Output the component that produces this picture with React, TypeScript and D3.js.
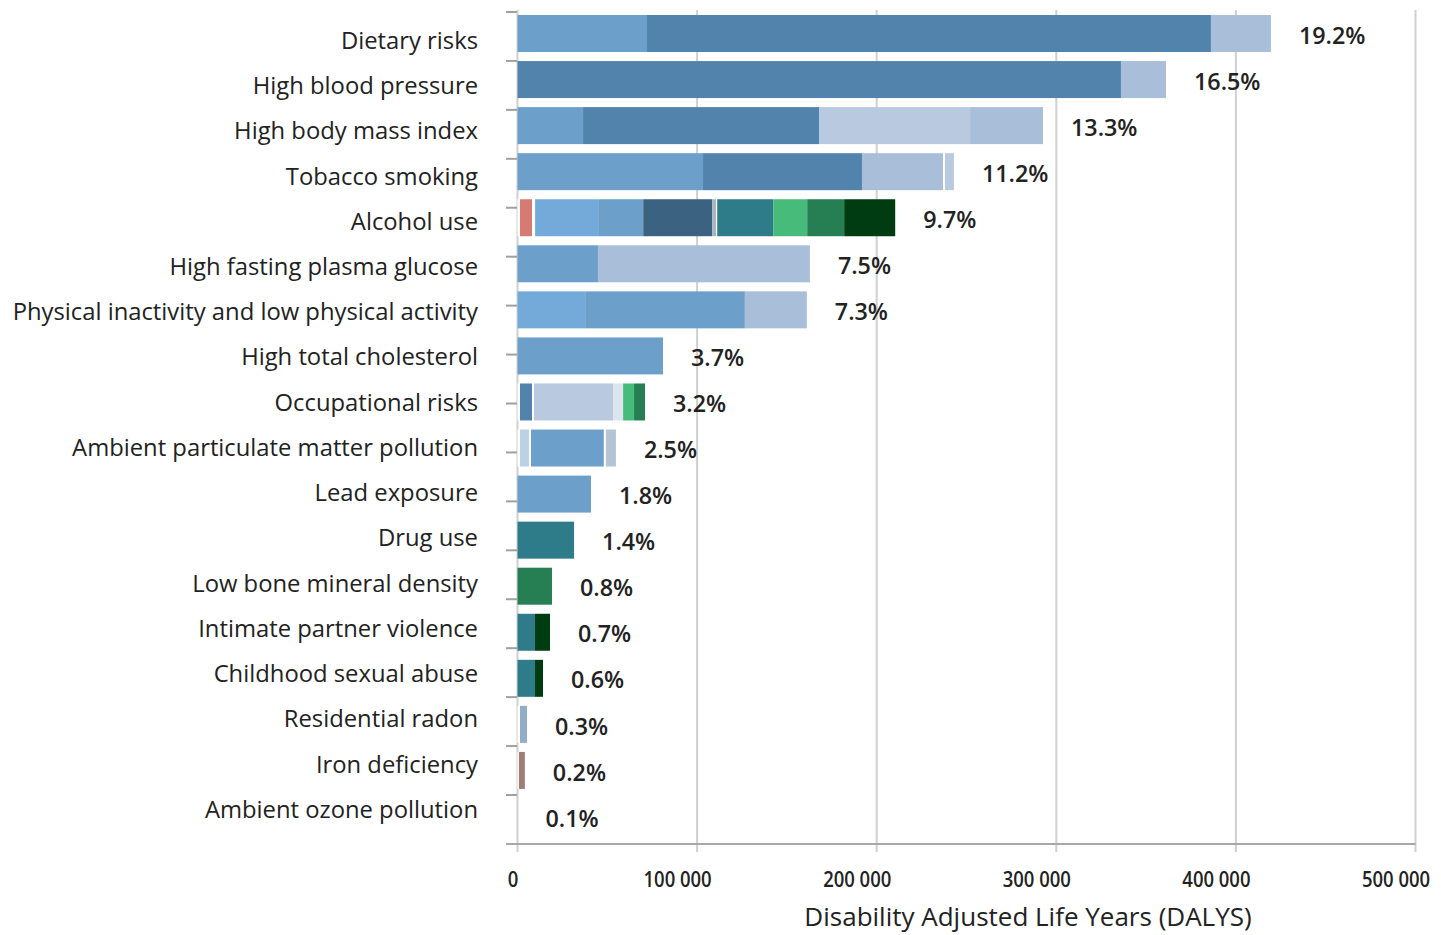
import React from "react";
import * as d3 from "d3";

const categories = [
  "Dietary risks",
  "High blood pressure",
  "High body mass index",
  "Tobacco smoking",
  "Alcohol use",
  "High fasting plasma glucose",
  "Physical inactivity and low physical activity",
  "High total cholesterol",
  "Occupational risks",
  "Ambient particulate matter pollution",
  "Lead exposure",
  "Drug use",
  "Low bone mineral density",
  "Intimate partner violence",
  "Childhood sexual abuse",
  "Residential radon",
  "Iron deficiency",
  "Ambient ozone pollution",
];

const percentLabels = [
  "19.2%", "16.5%", "13.3%", "11.2%", "9.7%", "7.5%", "7.3%", "3.7%", "3.2%",
  "2.5%", "1.8%", "1.4%", "0.8%", "0.7%", "0.6%", "0.3%", "0.2%", "0.1%",
];

// cause keys and colours
const causeKeys = [
  "gap", "injury", "sky", "blue", "steel", "navy", "grey", "pale", "mist",
  "ice", "frost", "slate", "teal", "green", "forest", "darkGreen", "radonBlue", "brown",
];
const causeColors = [
  "#ffffff", "#d67b72", "#74aad9", "#6ca0cb", "#5283ad", "#3c6282", "#aab4c0",
  "#a9bed9", "#b9c9e0", "#dce4ee", "#bcd0e6", "#b5c5d6", "#2e7b89", "#47bb7a",
  "#267f53", "#003c12", "#91adc8", "#a07e77",
];

// DALYs in thousands, per risk factor, stacked in drawing order
const dietarySegments = [["blue", 72.1], ["steel", 314.0], ["pale", 33.4]];
const bloodPressureSegments = [["steel", 336.0], ["pale", 25.1]];
const bodyMassSegments = [["blue", 36.5], ["steel", 131.4], ["mist", 84.1], ["pale", 40.6]];
const tobaccoSegments = [["blue", 103.3], ["steel", 88.5], ["pale", 45.1], ["gap", 1.1], ["mist", 5.0]];
const alcoholSegments = [
  ["gap", 1.4], ["injury", 6.7], ["gap", 1.7], ["sky", 35.1], ["blue", 25.1], ["navy", 38.4],
  ["grey", 2.2], ["gap", 0.6], ["teal", 31.2], ["green", 18.9], ["forest", 20.6], ["darkGreen", 28.4],
];
const glucoseSegments = [["blue", 44.8], ["pale", 118.0]];
const inactivitySegments = [["sky", 38.1], ["blue", 88.5], ["pale", 34.5]];
const cholesterolSegments = [["blue", 81.0]];
const occupationalSegments = [
  ["gap", 1.4], ["steel", 6.7], ["gap", 1.1], ["mist", 44.0], ["ice", 5.6], ["green", 6.1], ["forest", 6.1],
];
const particulateSegments = [["gap", 1.4], ["frost", 5.0], ["gap", 1.1], ["blue", 40.6], ["gap", 1.1], ["slate", 5.6]];
const leadSegments = [["blue", 40.9]];
const drugSegments = [["teal", 31.5]];
const boneSegments = [["forest", 19.2]];
const partnerViolenceSegments = [["teal", 9.7], ["darkGreen", 8.4]];
const childAbuseSegments = [["teal", 9.7], ["darkGreen", 4.5]];
const radonSegments = [["gap", 1.4], ["radonBlue", 3.9]];
const ironSegments = [["gap", 0.8], ["brown", 3.3]];
const ozoneSegments: [string, number][] = [];

const segments = [
  dietarySegments, bloodPressureSegments, bodyMassSegments, tobaccoSegments, alcoholSegments,
  glucoseSegments, inactivitySegments, cholesterolSegments, occupationalSegments, particulateSegments,
  leadSegments, drugSegments, boneSegments, partnerViolenceSegments, childAbuseSegments,
  radonSegments, ironSegments, ozoneSegments,
];

const xTicks = [0, 100000, 200000, 300000, 400000, 500000];
const axisTitle = "Disability Adjusted Life Years (DALYS)";

const W = 1441;
const H = 935;
const FONT = "'Open Sans', 'Noto Sans', sans-serif";

export default function App() {
  const color = d3.scaleOrdinal<string, string>().domain(causeKeys).range(causeColors);
  const x = d3.scaleLinear().domain([0, 500000]).range([517.5, 1415.5]);
  const yBar = d3
    .scaleBand<string>()
    .domain(categories)
    .range([10.4, 839.6])
    .paddingInner(0.197)
    .paddingOuter(0.1);
  const yLabel = d3.scalePoint<string>().domain(categories).range([40.5, 809.5]);
  const yTick = d3.scaleLinear().domain([0, 16]).range([12, 795]);
  const tickIdx = d3.range(17);
  const fmt = (v: number) => d3.format(",")(v).replace(/,/g, " ");

  const gridTop = 10;
  const axisY = 844;
  const gridBottom = 852;

  const rows = categories.map((c, i) => {
    let acc = 0;
    const rects = (segments[i] as [string, number][]).map(([k, v], j) => {
      const x0 = acc;
      acc += v * 1000;
      return { key: k, x0, x1: acc, j };
    });
    return { c, i, rects, total: acc };
  });

  return (
    <svg
      width={W}
      height={H}
      style={{ position: "absolute", left: 0, top: 0, background: "#fff" }}
      fontFamily={FONT}
    >
      {/* grid lines */}
      {xTicks.map((t) => (
        <line
          key={"g" + t}
          x1={x(t)}
          x2={x(t)}
          y1={gridTop}
          y2={gridBottom}
          stroke="#d0d0d0"
          strokeWidth={2}
        />
      ))}
      {/* y axis ticks */}
      {tickIdx.map((t) => (
        <line key={"yt" + t} x1={506} x2={517} y1={yTick(t)} y2={yTick(t)} stroke="#a0a0a0" strokeWidth={2} />
      ))}
      {/* bars */}
      {rows.map((r) =>
        r.rects.map((s) => (
          <rect
            key={r.c + s.j}
            x={x(s.x0)}
            y={yBar(r.c)}
            width={Math.max(0, x(s.x1) - x(s.x0))}
            height={yBar.bandwidth()}
            fill={color(s.key)}
          />
        ))
      )}
      {/* x axis line */}
      <line x1={506} x2={1415.5} y1={axisY} y2={axisY} stroke="#a8a8a8" strokeWidth={2} />
      {/* category labels */}
      {categories.map((c) => (
        <text
          key={"l" + c}
          x={478}
          y={yLabel(c)}
          dy="0.35em"
          textAnchor="end"
          fontSize={23.8}
          fill="#222"
        >
          {c}
        </text>
      ))}
      {/* percent labels */}
      {rows.map((r) => (
        <text
          key={"p" + r.c}
          x={x(r.total) + 28}
          y={(yBar(r.c) as number) + yBar.bandwidth() / 2 + 2}
          dy="0.35em"
          fontSize={23.3}
          fontWeight={600}
          fill="#222"
        >
          {percentLabels[r.i]}
        </text>
      ))}
      {/* x tick labels */}
      {xTicks.map((t) => {
        const label = fmt(t);
        const cx = x(t) - 4.5 - 2.5 * (label.length - 1);
        return (
          <g key={"xl" + t} transform={`translate(${cx},887) scale(0.88,1)`}>
            <text textAnchor="middle" fontSize={21} fontWeight={600} fill="#222">
              {label}
            </text>
          </g>
        );
      })}
      <text x={1028} y={926} textAnchor="middle" fontSize={26} fill="#222">
        {axisTitle}
      </text>
    </svg>
  );
}
